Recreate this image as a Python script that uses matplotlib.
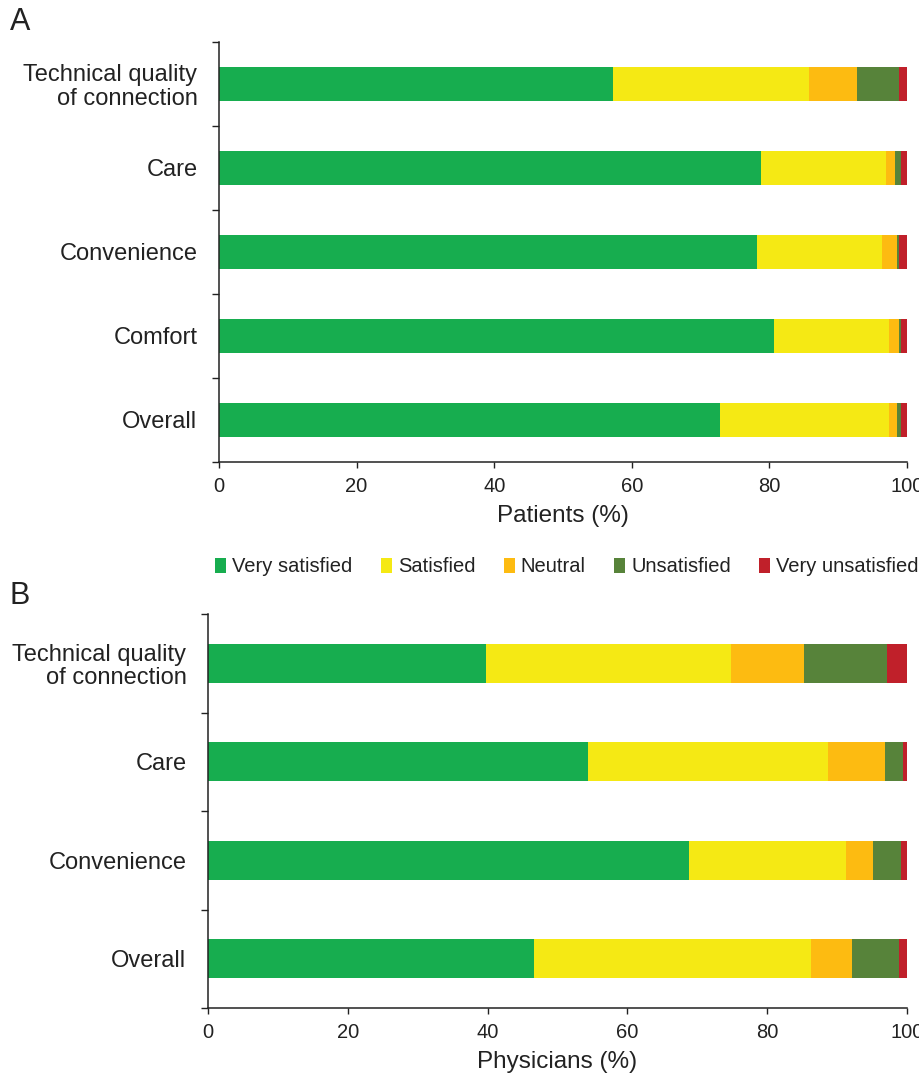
import matplotlib
matplotlib.use("Agg")
import matplotlib.pyplot as plt
import numpy as np
from matplotlib.patches import Patch

plt.rcParams['font.family'] = ['Liberation Sans', 'DejaVu Sans']
plt.rcParams['text.color'] = '#222222'
plt.rcParams['xtick.color'] = '#222222'
plt.rcParams['ytick.color'] = '#222222'
plt.rcParams['axes.labelcolor'] = '#222222'

levels = ["Very satisfied", "Satisfied", "Neutral", "Unsatisfied", "Very unsatisfied"]
colors = ["#17ad4f", "#f5e914", "#fdbb11", "#57833a", "#c0202a"]

cats_a = ["Technical quality\nof connection", "Care", "Convenience", "Comfort", "Overall"]
very_sat_a = [57.3, 78.8, 78.2, 80.7, 72.8]
sat_a = [28.5, 18.2, 18.2, 16.7, 24.6]
neutral_a = [6.9, 1.3, 2.1, 1.5, 1.2]
unsat_a = [6.2, 0.9, 0.4, 0.2, 0.6]
very_unsat_a = [1.1, 0.8, 1.1, 0.9, 0.8]

cats_b = ["Technical quality\nof connection", "Care", "Convenience", "Overall"]
very_sat_b = [39.7, 54.4, 68.8, 46.7]
sat_b = [35.1, 34.3, 22.5, 39.6]
neutral_b = [10.5, 8.2, 3.9, 5.9]
unsat_b = [11.9, 2.5, 3.9, 6.7]
very_unsat_b = [2.8, 0.6, 0.9, 1.1]

xticks = [0, 20, 40, 60, 80, 100]

W, H = 919, 1073
fig = plt.figure(figsize=(W / 100, H / 100), dpi=100)


def panel(rect, cats, series, xlabel):
    ax = fig.add_axes(rect)
    n = len(cats)
    y = np.arange(n)
    left = np.zeros(n)
    for vals, c in zip(series, colors):
        vals = np.array(vals)
        ax.barh(y, vals, left=left, height=0.4, color=c, edgecolor='none')
        left += vals
    ax.set_ylim(n - 0.5, -0.5)
    ax.set_xlim(0, 100)
    ax.set_yticks(y)
    ax.set_yticklabels(cats, fontsize=17, linespacing=1.1)
    ax.tick_params(axis='y', which='major', length=0, pad=15.5)
    ax.set_yticks(np.arange(n + 1) - 0.5, minor=True)
    ax.tick_params(axis='y', which='minor', length=5, direction='out', width=1.0)
    ax.set_xticks(xticks)
    ax.set_xticklabels([str(t) for t in xticks], fontsize=14.5)
    ax.tick_params(axis='x', length=4.5, direction='out', width=1.0, pad=6)
    ax.set_xlabel(xlabel, fontsize=17.5, labelpad=7)
    for s in ['top', 'right']:
        ax.spines[s].set_visible(False)
    for s in ['left', 'bottom']:
        ax.spines[s].set_linewidth(1.1)
        ax.spines[s].set_color('#222222')
    return ax


def rect(l, t, r, b):
    return [l / W, 1 - b / H, (r - l) / W, (b - t) / H]


series_a = [very_sat_a, sat_a, neutral_a, unsat_a, very_unsat_a]
series_b = [very_sat_b, sat_b, neutral_b, unsat_b, very_unsat_b]

panel(rect(219, 42, 907, 462), cats_a, series_a, "Patients (%)")
panel(rect(208, 614, 907, 1008), cats_b, series_b, "Physicians (%)")

fig.text(10 / W, 1 - 22 / H, "A", fontsize=22, va='center', ha='left')
fig.text(10 / W, 1 - 596 / H, "B", fontsize=22, va='center', ha='left')

handles = [Patch(facecolor=c, edgecolor='none') for c in colors]
fig.legend(handles, levels, loc='center', bbox_to_anchor=(567 / W, 1 - 567 / H),
           ncol=5, frameon=False, fontsize=14.5, handlelength=0.55, handleheight=0.7,
           handletextpad=0.3, columnspacing=1.4, borderpad=0)

fig.savefig("out.png", dpi=100, facecolor='white')
